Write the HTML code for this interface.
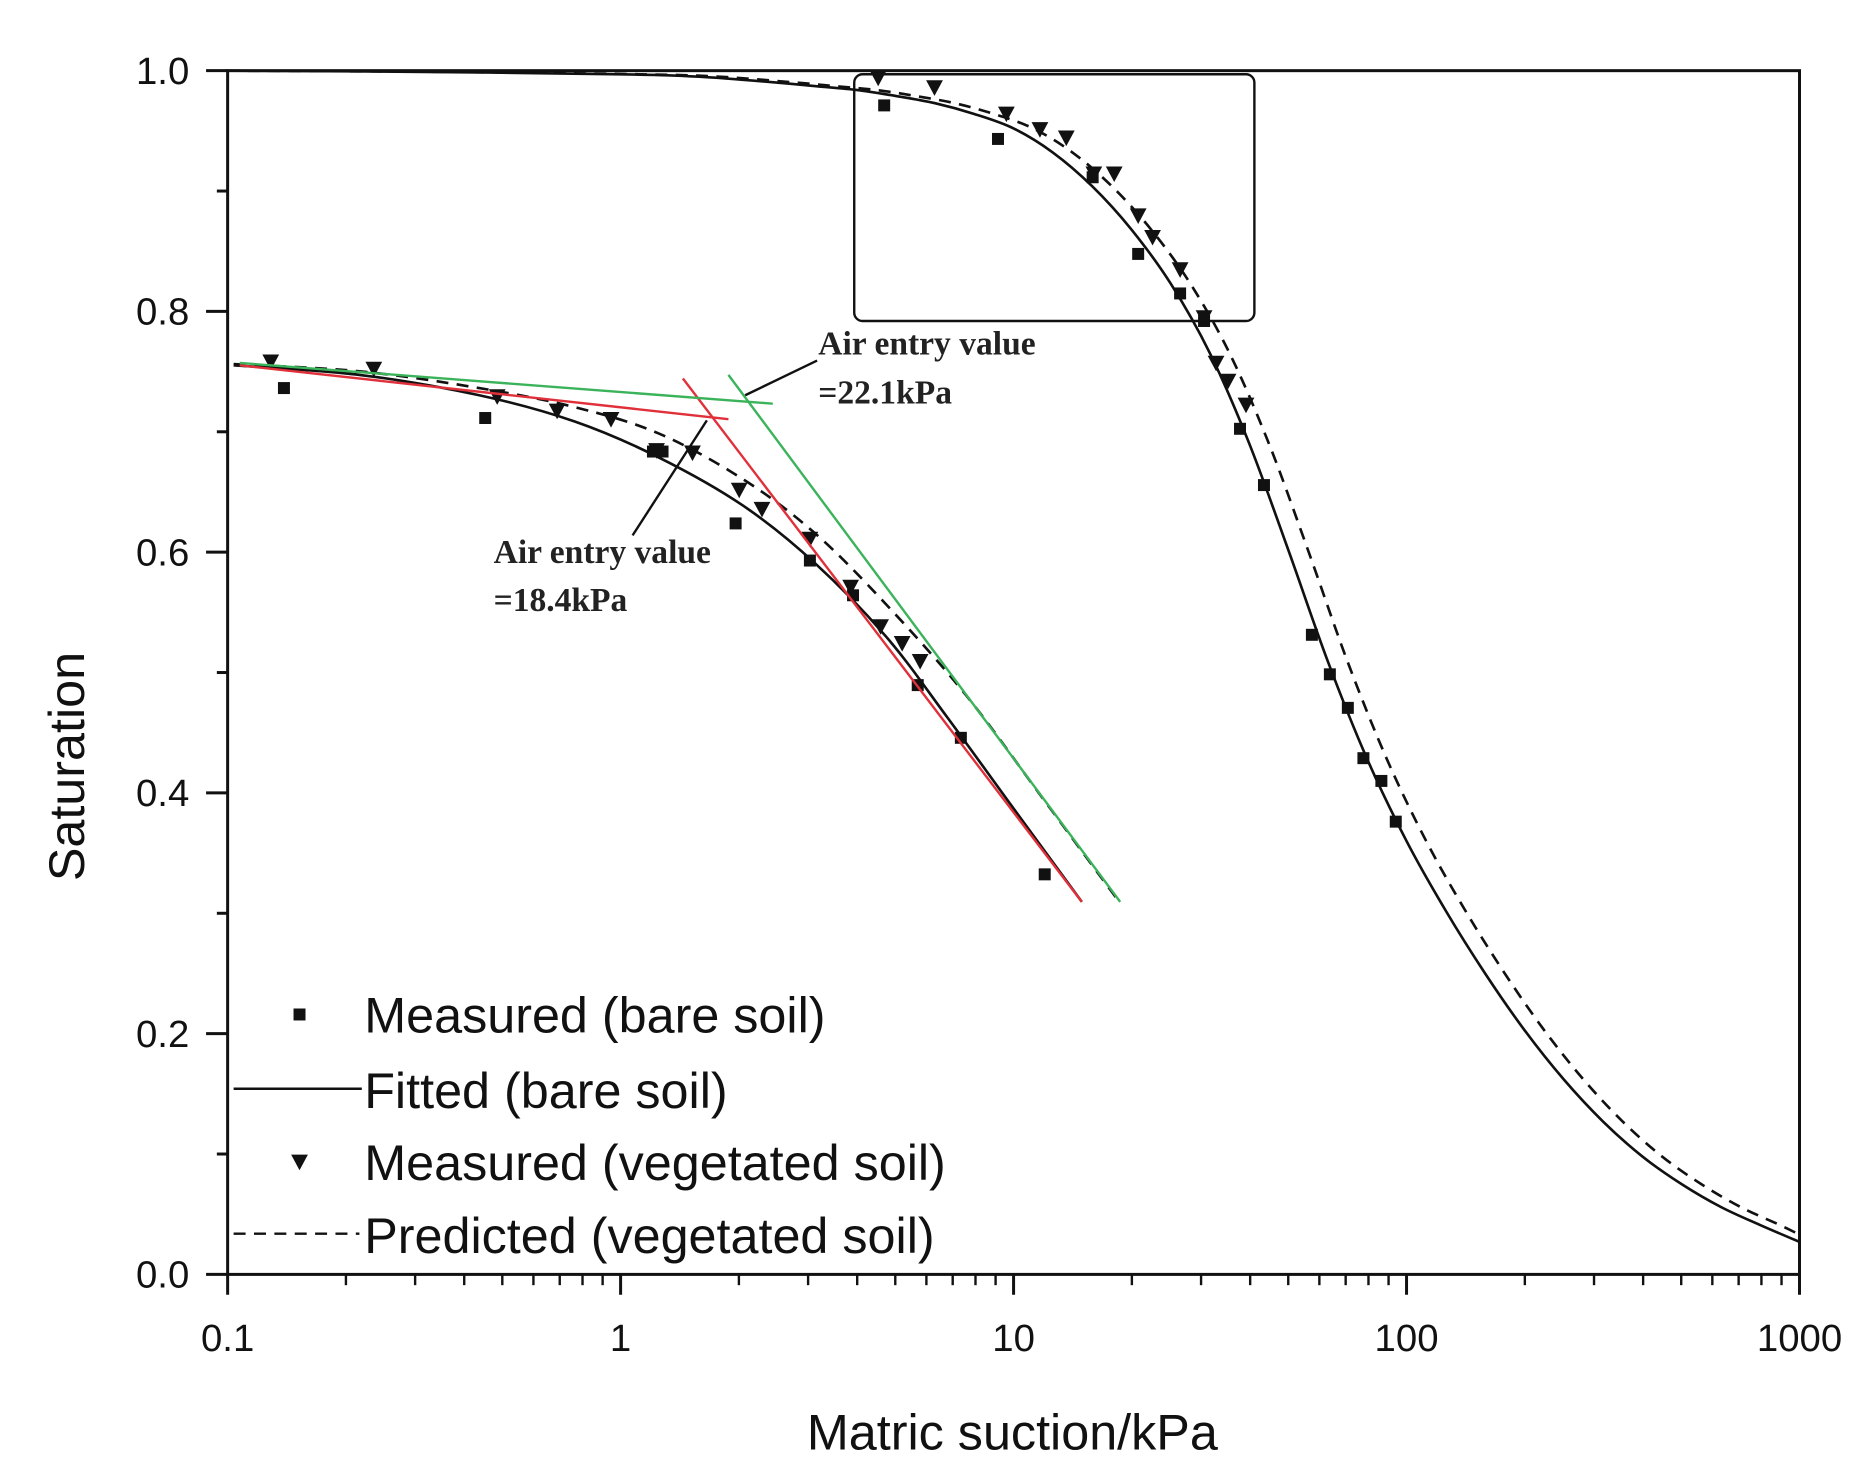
<!DOCTYPE html>
<html><head><meta charset="utf-8">
<style>
html,body{margin:0;padding:0;background:#fff;}
svg{display:block;}
.ax{font-family:"Liberation Sans",Arial,sans-serif;fill:#111;}
.an{font-family:"Liberation Serif",serif;font-weight:bold;fill:#222;}
</style></head>
<body>
<svg id="s" width="1869" height="1484" viewBox="0 0 1560 1239" preserveAspectRatio="none" xmlns="http://www.w3.org/2000/svg">
<rect width="1560" height="1239" fill="#fff"/>
<g id="g"></g>
<rect x="190" y="59" width="1312" height="1005" fill="none" stroke="#111" stroke-width="2.5"/>
<rect x="713" y="62" width="334" height="206" rx="7" fill="none" stroke="#111" stroke-width="2"/>
<line x1="200" y1="305" x2="608" y2="350" stroke="#e0303a" stroke-width="2"/>
<line x1="570" y1="316" x2="903" y2="753" stroke="#e0303a" stroke-width="2"/>
<line x1="200" y1="303" x2="645" y2="337" stroke="#3bb35a" stroke-width="2"/>
<line x1="608" y1="313" x2="935" y2="753" stroke="#3bb35a" stroke-width="2"/>
<line x1="590" y1="351" x2="528" y2="447" stroke="#111" stroke-width="2"/>
<line x1="682" y1="301" x2="622" y2="330" stroke="#111" stroke-width="2"/>
<text class="an" x="683" y="296" font-size="28">Air entry value</text>
<text class="an" x="683" y="337" font-size="28">=22.1kPa</text>
<text class="an" x="412" y="470" font-size="28">Air entry value</text>
<text class="an" x="412" y="510" font-size="28">=18.4kPa</text>
<rect x="245" y="842" width="10" height="10" fill="#111"/>
<text class="ax" x="304" y="862" font-size="42">Measured (bare soil)</text>
<line x1="195" y1="909" x2="302" y2="909" stroke="#111" stroke-width="2"/>
<text class="ax" x="304" y="925" font-size="42">Fitted (bare soil)</text>
<polygon points="243,964 257,964 250,977" fill="#111"/>
<text class="ax" x="304" y="985" font-size="42">Measured (vegetated soil)</text>
<line x1="195" y1="1030" x2="300" y2="1030" stroke="#111" stroke-width="2" stroke-dasharray="10,7"/>
<text class="ax" x="304" y="1046" font-size="42">Predicted (vegetated soil)</text>
<text class="ax" x="845" y="1210" font-size="42" text-anchor="middle">Matric suction/kPa</text>
<text class="ax" transform="translate(70,640) rotate(-90)" font-size="42" text-anchor="middle">Saturation</text>
</svg>
<script>
var NS="http://www.w3.org/2000/svg",g=document.getElementById('g');
function el(t,a){var e=document.createElementNS(NS,t);for(var k in a)e.setAttribute(k,a[k]);g.appendChild(e);return e;}
var X0=190,X1=1502,Y0=1064,Y1=59;
function px(l){return X0+(l+1)*(X1-X0)/4;}
function py(s){return Y0-s*(Y0-Y1);}
for(var d=-1;d<=3;d++){
 var x=px(d);el('line',{x1:x,y1:1064,x2:x,y2:1081,stroke:'#111','stroke-width':2.5});
 var t=el('text',{x:x,y:1128,'font-size':32,'text-anchor':'middle','class':'ax'});t.textContent=['0.1','1','10','100','1000'][d+1];
 if(d<3)for(var m=2;m<=9;m++){var xm=px(d+Math.log10(m));el('line',{x1:xm,y1:1064,x2:xm,y2:1073,stroke:'#111','stroke-width':2});}
}
for(var i=0;i<=10;i++){
 var y=py(i/10),maj=i%2==0;
 el('line',{x1:maj?172:181,y1:y,x2:190,y2:y,stroke:'#111','stroke-width':2.5});
 if(maj){var t=el('text',{x:158,y:y+11,'font-size':32,'text-anchor':'end','class':'ax'});t.textContent=(i/10).toFixed(1);}
}
function cr(P){
 var s='M'+P[0][0]+','+P[0][1];
 for(var i=0;i<P.length-1;i++){var p0=P[Math.max(0,i-1)],p1=P[i],p2=P[i+1],p3=P[Math.min(P.length-1,i+2)];
  s+=' C'+(p1[0]+(p2[0]-p0[0])/6)+','+(p1[1]+(p2[1]-p0[1])/6)+' '+(p2[0]-(p3[0]-p1[0])/6)+','+(p2[1]-(p3[1]-p1[1])/6)+' '+p2[0]+','+p2[1];}
 return s;}
var bare=[[-1,1.0],[-0.5,0.999],[0,0.997],[0.2,0.995],[0.4,0.99],[0.5,0.987],[0.6,0.984],[0.7,0.979],[0.8,0.973],[0.9,0.964],[1,0.952],[1.1,0.932],[1.2,0.904],[1.3,0.868],[1.4,0.823],[1.5,0.765],[1.6,0.69],[1.7,0.601],[1.8,0.509],[1.9,0.428],[2,0.36],[2.1,0.302],[2.2,0.25],[2.3,0.203],[2.4,0.162],[2.5,0.127],[2.6,0.098],[2.7,0.075],[2.8,0.056],[2.9,0.041],[3,0.027]];
var veg=[[-1,1.0]];
bare.forEach(function(p){if(p[0]>-1){var l=p[0]+0.05;if(l<=3)veg.push([l,p[1]]);}});
veg.push([3,0.033]);
function toP(a){return a.map(function(p){return [px(p[0]),py(p[1])];});}
el('path',{d:cr(toP(bare)),fill:'none',stroke:'#111','stroke-width':2.2});
el('path',{d:cr(toP(veg)),fill:'none',stroke:'#111','stroke-width':2.2,'stroke-dasharray':'10,7'});
el('path',{d:cr([[195,305],[300,313],[400,330],[480,352],[550,382],[620,422],[680,470],[740,532],[790,598],[846,675],[903,753]]),fill:'none',stroke:'#111','stroke-width':2.2});
el('path',{d:cr([[195,304],[300,310],[400,324],[480,340],[550,362],[620,400],[680,445],[740,505],[806,580],[870,666],[932,750]]),fill:'none',stroke:'#111','stroke-width':2.2,'stroke-dasharray':'10,7'});
var sq=[[738,88],[833,116],[912,148],[950,212],[985,245],[1005,268],[1035,358],[1055,405],[1095,530],[1110,563],[1125,591],[1138,633],[1153,652],[1165,686],
[237,324],[405,349],[545,377],[553,377],[614,437],[676,468],[712,497],[766,572],[802,616],[872,730]];
sq.forEach(function(p){el('rect',{x:p[0]-5,y:p[1]-5,width:10,height:10,fill:'#111'});});
var tr=[[733,65],[780,73],[840,95],[868,108],[890,115],[913,145],[930,145],[950,180],[962,198],[985,225],[1005,265],[1015,303],[1025,318],[1040,338],
[226,302],[312,308],[415,331],[465,343],[510,350],[548,376],[578,378],[617,409],[636,425],[676,450],[710,490],[735,523],[753,537],[768,552]];
tr.forEach(function(p){el('polygon',{points:(p[0]-7)+','+(p[1]-6)+' '+(p[0]+7)+','+(p[1]-6)+' '+p[0]+','+(p[1]+7),fill:'#111'});});
</script>
</body></html>
